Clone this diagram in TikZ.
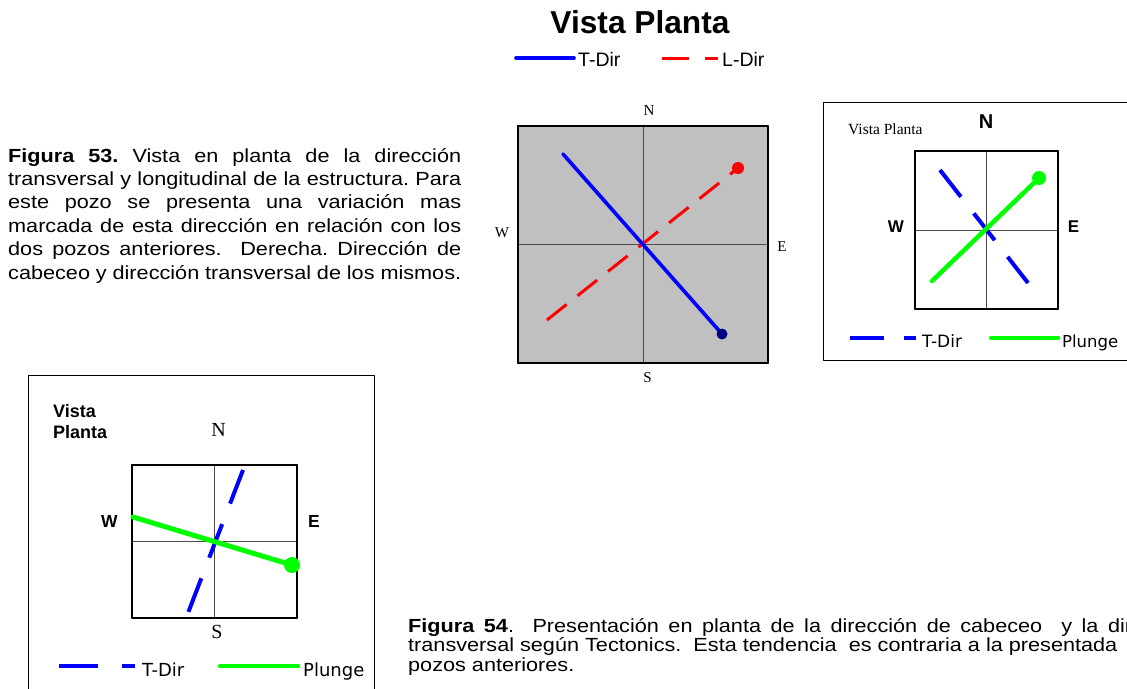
\documentclass[tikz,border=0pt]{standalone}
\usepackage{fontspec}
\setmainfont{Liberation Serif}
\setsansfont{Liberation Sans}
\newfontfamily\legendfont{DejaVu Sans}
\newfontfamily\capfont[FakeStretch=1.14]{Liberation Sans}
\usetikzlibrary{positioning}
\definecolor{plotgrey}{RGB}{192,192,192}
\definecolor{plotnavy}{RGB}{0,0,128}
\definecolor{plotgreen}{RGB}{0,255,0}
\newcommand{\fsz}[2]{\fontsize{#1}{#2}\selectfont}

\begin{document}
\begin{tikzpicture}[x=1pt,y=-1pt,line join=round,
  outerbox/.style={draw=black,line width=1pt},
  plotsq/.style={draw=black,line width=1.2pt,inner sep=0pt,outer sep=0pt},
  axis/.style={draw=black!70,line width=0.9pt},
  tdirline/.style={draw=blue,line width=3.6pt,line cap=round},
  ldirline/.style={draw=red,line width=3pt,dash pattern=on 25pt off 14pt},
  tdash/.style={draw=blue,line width=4pt,dash pattern=on 34pt off 21pt},
  plungeline/.style={draw=plotgreen,line width=4.5pt,line cap=round},
  lbl/.style={inner sep=0pt,anchor=base},
  legtext/.style={inner sep=0pt,anchor=base west,font=\legendfont\fsz{18}{20}},
]
\useasboundingbox (0,0) rectangle (1127,688);

% title and top legend
\node[lbl,font=\sffamily\bfseries\fsz{31.7}{36}] (title) at (640,33) {Vista Planta};
\coordinate (legTa) at (516,58);
\coordinate (legTb) at (574,58);
\draw[tdirline] (legTa) -- (legTb);
\node[lbl,anchor=base west,font=\sffamily\fsz{19.5}{20}] (legT) at (578,66) {T-Dir};
\coordinate (legLa) at (662,58);
\coordinate (legLb) at (718,58);
\draw[ldirline,dash pattern=on 27pt off 16pt] (legLa) -- (legLb);
\node[lbl,anchor=base west,font=\sffamily\fsz{19.5}{20}] (legL) at (722,66) {L-Dir};

% caption 53
\node[inner sep=0pt,anchor=base west,text width=453pt,align=justify,
  font=\capfont\frenchspacing\fsz{19}{23.4}] (capA) at (8,162)
  {\textbf{Figura 53.} Vista en planta de la dirección\linebreak
   transversal y longitudinal de la estructura. Para\linebreak
   este pozo se presenta una variación mas\linebreak
   marcada de esta dirección en relación con los\linebreak
   dos pozos anteriores.\ \ Derecha. Dirección de\linebreak
   cabeceo y dirección transversal de los mismos.};

% main plan view
\node[plotsq,fill=plotgrey,minimum width=250pt,minimum height=237pt] (mainsq) at (643,244.5) {};
\draw[axis] (mainsq.north) -- (mainsq.south);
\draw[axis] (mainsq.west) -- (mainsq.east);
\draw[plotsq] (mainsq.north west) rectangle (mainsq.south east);
\node[lbl,font=\fsz{15}{17}] (mainN) at (649,115) {N};
\node[lbl,font=\fsz{15}{17}] (mainS) at (647.5,382) {S};
\node[lbl,font=\fsz{15}{17}] (mainW) at (502,237) {W};
\node[lbl,font=\fsz{15}{17}] (mainE) at (782,251) {E};
\coordinate (mainLa) at (547,320);
\coordinate (mainLb) at (738,168);
\coordinate (mainTa) at (563,154);
\coordinate (mainTb) at (722,334);
\draw[ldirline] (mainLa) -- (mainLb);
\fill[red] (mainLb) circle[radius=6pt];
\draw[tdirline] (mainTa) -- (mainTb);
\fill[plotnavy] (mainTb) circle[radius=5.5pt];

% right box
\draw[outerbox] (823,102) -- (1140,102);
\draw[outerbox] (823,102) -- (823,360) -- (1140,360);
\node[plotsq,fill=white,minimum width=143pt,minimum height=158pt] (rsq) at (986.5,230) {};
\draw[axis] (rsq.north) -- (rsq.south);
\draw[axis] (rsq.west) -- (rsq.east);
\draw[plotsq] (rsq.north west) rectangle (rsq.south east);
\node[lbl,anchor=base west,font=\fsz{15.5}{17}] (rtitle) at (848,134) {Vista Planta};
\node[lbl,font=\sffamily\bfseries\fsz{20}{22}] (rN) at (986,128) {N};
\node[lbl,font=\sffamily\bfseries\fsz{17}{19}] (rW) at (896,232) {W};
\node[lbl,font=\sffamily\bfseries\fsz{17}{19}] (rE) at (1073.5,232) {E};
\coordinate (rTa) at (940,170);
\coordinate (rTb) at (1028,283);
\coordinate (rPa) at (932,281);
\coordinate (rPb) at (1039,178);
\draw[tdash] (rTa) -- (rTb);
\draw[plungeline] (rPa) -- (rPb);
\fill[plotgreen] (rPb) circle[radius=7pt];
\coordinate (rlegTa) at (850,338);
\coordinate (rlegTb) at (916,338);
\draw[tdash,dash pattern=on 34pt off 20pt] (rlegTa) -- (rlegTb);
\node[legtext,font=\legendfont\fsz{17}{19}] (rlegT) at (922,347) {T-Dir};
\coordinate (rlegPa) at (991,338);
\coordinate (rlegPb) at (1058,338);
\draw[plungeline] (rlegPa) -- (rlegPb);
\node[legtext,font=\legendfont\fsz{16.5}{19}] (rlegP) at (1062,347) {Plunge};

% bottom left box
\draw[outerbox] (28,700) -- (28,375) -- (374,375) -- (374,700);
\node[plotsq,fill=white,minimum width=165pt,minimum height=153pt] (bsq) at (214.5,541.5) {};
\draw[axis] (bsq.north) -- (bsq.south);
\draw[axis] (bsq.west) -- (bsq.east);
\draw[plotsq] (bsq.north west) rectangle (bsq.south east);
\node[lbl,anchor=base west,align=left,font=\sffamily\bfseries\fsz{18}{21}] (btitle) at (53,438) {Vista\\Planta};
\node[lbl,font=\fsz{20}{22}] (bN) at (218.5,436) {N};
\node[lbl,font=\fsz{20}{22}] (bS) at (217,638) {S};
\node[lbl,font=\sffamily\bfseries\fsz{17.5}{19}] (bW) at (109.5,527) {W};
\node[lbl,font=\sffamily\bfseries\fsz{17.5}{19}] (bE) at (314,527) {E};
\coordinate (bTa) at (243,470);
\coordinate (bTb) at (188,613);
\coordinate (bPa) at (133,517);
\coordinate (bPb) at (292,565);
\draw[tdash,dash pattern=on 36pt off 22pt] (bTa) -- (bTb);
\draw[plungeline,line width=5pt] (bPa) -- (bPb);
\fill[plotgreen] (bPb) circle[radius=8pt];
\coordinate (blegTa) at (59,666);
\coordinate (blegTb) at (135,666);
\draw[tdash,dash pattern=on 39pt off 24pt] (blegTa) -- (blegTb);
\node[legtext] (blegT) at (142,676) {T-Dir};
\coordinate (blegPa) at (220,666);
\coordinate (blegPb) at (298,666);
\draw[plungeline] (blegPa) -- (blegPb);
\node[legtext] (blegP) at (303,676) {Plunge};

% caption 54
\node[inner sep=0pt,anchor=base west,text width=724pt,align=justify,
  font=\capfont\fsz{19}{19.5}] (capB) at (408,632)
  {\textbf{Figura 54}. Presentación en planta de la dirección de cabeceo\ \ y la dir\linebreak
   transversal según Tectonics.\ \ Esta tendencia\ \ es contraria a la presentada\newline
   pozos anteriores.};
\end{tikzpicture}
\end{document}
